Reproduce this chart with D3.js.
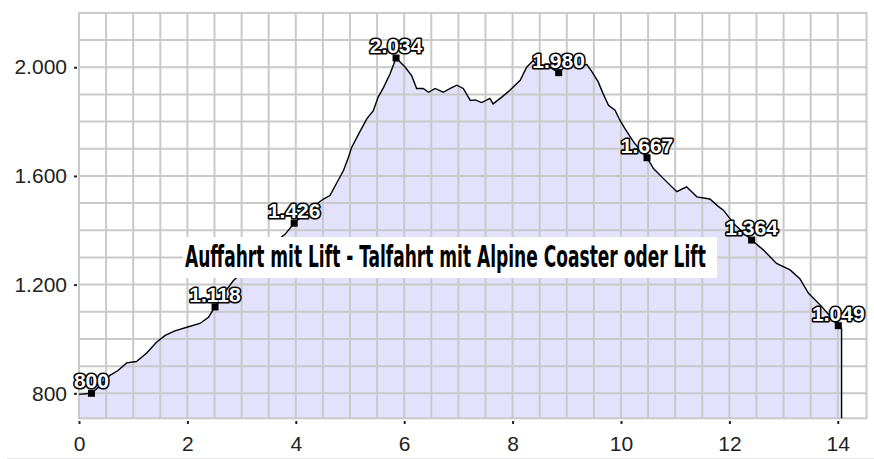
<!DOCTYPE html>
<html>
<head>
<meta charset="utf-8">
<script src="https://cdn.jsdelivr.net/npm/d3@7"></script>
<style>
  body { margin: 0; background: #fff; }
  svg { display: block; }
</style>
</head>
<body>
<div id="chart"></div>
<script>
// profile: distance (km) and elevation (m)
var distances = [0.00, 0.23, 0.40, 0.57, 0.72, 0.88, 1.06, 1.25, 1.43, 1.59, 1.77, 2.02, 2.23, 2.39, 2.51,
  2.68, 2.85, 3.20, 3.55, 3.80, 3.97, 4.20, 4.51, 4.63, 4.75, 4.88, 4.97, 5.03, 5.19, 5.31, 5.43, 5.52,
  5.62, 5.74, 5.85, 6.02, 6.14, 6.23, 6.35, 6.45, 6.57, 6.72, 6.85, 6.97, 7.09, 7.22, 7.31, 7.43, 7.58,
  7.64, 7.80, 7.95, 8.14, 8.26, 8.38, 8.51, 8.63, 8.85, 9.00, 9.24, 9.37, 9.46, 9.58, 9.67, 9.77, 9.89,
  9.98, 10.07, 10.25, 10.48, 10.60, 10.78, 11.03, 11.21, 11.40, 11.64, 11.80, 11.89, 12.10, 12.41, 12.63,
  12.87, 13.12, 13.30, 13.46, 13.70, 14.01, 14.07];
var elevations = [796, 800, 830, 866, 884, 912, 917, 948, 988, 1013, 1030, 1045, 1057, 1080, 1118,
  1170, 1215, 1280, 1345, 1385, 1426, 1470, 1515, 1528, 1572, 1620, 1668, 1705, 1766, 1810, 1840, 1890,
  1926, 1976, 2034, 2000, 1968, 1922, 1922, 1908, 1922, 1908, 1922, 1934, 1922, 1878, 1880, 1870, 1885,
  1865, 1890, 1915, 1952, 2000, 2025, 1995, 2007, 1980, 2007, 2007, 2010, 1985, 1946, 1903, 1860, 1842,
  1805, 1775, 1720, 1667, 1627, 1591, 1542, 1560, 1523, 1515, 1487, 1474, 1420, 1364, 1327,
  1278, 1254, 1222, 1168, 1120, 1049, 1040];

// labelled waypoints
var markerDist = [0.23, 2.51, 3.97, 5.85, 8.85, 10.48, 12.41, 14.01];
var markerElev = [800, 1118, 1426, 2034, 1980, 1667, 1364, 1049];

var xTicks = [0, 2, 4, 6, 8, 10, 12, 14];
var yTicks = [800, 1200, 1600, 2000];
var title = "Auffahrt mit Lift - Talfahrt mit Alpine Coaster oder Lift";

var svgWidth = 874;
var svgHeight = 459;

var xMax = 14.53, yMin = 708, yMax = 2200;

var x = d3.scaleLinear().domain([0, xMax]).range([79, 866.5]);
var y = d3.scaleLinear().domain([yMin, yMax]).range([418.3, 12.9]);

var de = d3.formatLocale({ decimal: ",", thousands: ".", grouping: [3], currency: ["", "€"] });
var fmt = de.format(",d");

var svg = d3.select("#chart").append("svg")
  .attr("width", svgWidth)
  .attr("height", svgHeight);

var profile = distances.map(function(d, i) { return [d, elevations[i]]; });

// fill under the profile
svg.append("path")
  .datum(profile)
  .attr("fill", "#e2e2fc")
  .attr("d", d3.area()
    .x(function(d) { return x(d[0]); })
    .y0(y(yMin))
    .y1(function(d) { return y(d[1]); }));

// grid
var grid = svg.append("g").attr("stroke", "#c9c9c9").attr("stroke-width", 2);
grid.selectAll("line.v")
  .data(d3.range(0.5, 14.5, 0.5))
  .enter().append("line")
  .attr("x1", d => x(d)).attr("x2", d => x(d))
  .attr("y1", y(yMax)).attr("y2", y(yMin));
grid.selectAll("line.h")
  .data(d3.range(800, 2200, 100))
  .enter().append("line")
  .attr("x1", x(0)).attr("x2", x(xMax))
  .attr("y1", d => y(d)).attr("y2", d => y(d));
grid.append("rect")
  .attr("x", x(0)).attr("y", y(yMax))
  .attr("width", x(xMax) - x(0)).attr("height", y(yMin) - y(yMax))
  .attr("fill", "none");

// profile line, dropping to the floor at the end
var linePts = profile.concat([[distances[distances.length - 1], yMin]]);
svg.append("path")
  .datum(linePts)
  .attr("fill", "none")
  .attr("stroke", "#000")
  .attr("stroke-width", 1.4)
  .attr("d", d3.line().x(d => x(d[0])).y(d => y(d[1])));

// axes
var leftAxis = d3.axisLeft(y).tickValues(yTicks).tickSize(3).tickPadding(7).tickFormat(fmt);
var gy = svg.append("g").attr("transform", "translate(77,0)").call(leftAxis);
var bottomAxis = d3.axisBottom(x).tickValues(xTicks).tickSize(3).tickFormat(d3.format("d"));
var gx = svg.append("g").attr("transform", "translate(0,421)").call(bottomAxis);
gx.selectAll("text").attr("dy", null).attr("y", 30);
[gx, gy].forEach(function(g) {
  g.select(".domain").remove();
  g.selectAll(".tick line").attr("stroke", "#222").attr("stroke-width", 2);
  g.selectAll("text")
    .attr("fill", "#222")
    .style("font-family", "Arial, 'Liberation Sans', sans-serif")
    .style("font-size", "21px");
});

// waypoint markers and labels
var marks = svg.append("g");
markerDist.forEach(function(d, i) {
  var cx = x(d), cy = y(markerElev[i]);
  marks.append("rect")
    .attr("x", cx - 3.5).attr("y", cy - 3.5)
    .attr("width", 7).attr("height", 7)
    .attr("fill", "#000");
  marks.append("text")
    .attr("x", cx).attr("y", cy - 5)
    .attr("text-anchor", "middle")
    .style("font-family", "Arial, 'Liberation Sans', sans-serif")
    .style("font-weight", "bold")
    .style("font-size", "21px")
    .attr("fill", "#fff")
    .attr("stroke", "#000")
    .attr("stroke-width", 3.2)
    .attr("stroke-linejoin", "round")
    .attr("paint-order", "stroke")
    .text(fmt(markerElev[i]));
});

// title box
svg.append("rect")
  .attr("x", 183).attr("y", 237)
  .attr("width", 534).attr("height", 41)
  .attr("fill", "#fff");
var titleText = svg.append("text")
  .style("font-family", "'Liberation Sans Narrow', 'DejaVu Sans Condensed', sans-serif")
  .style("font-weight", "bold")
  .style("font-size", "31px")
  .attr("fill", "#000")
  .text(title);
var natural = titleText.node().getComputedTextLength();
titleText.attr("transform", "translate(185,267) scale(" + (521 / natural) + ",1)");

// faint line at the page bottom
svg.append("line")
  .attr("x1", 7).attr("x2", svgWidth)
  .attr("y1", 458.5).attr("y2", 458.5)
  .attr("stroke", "#e4e4e4");
</script>
</body>
</html>
